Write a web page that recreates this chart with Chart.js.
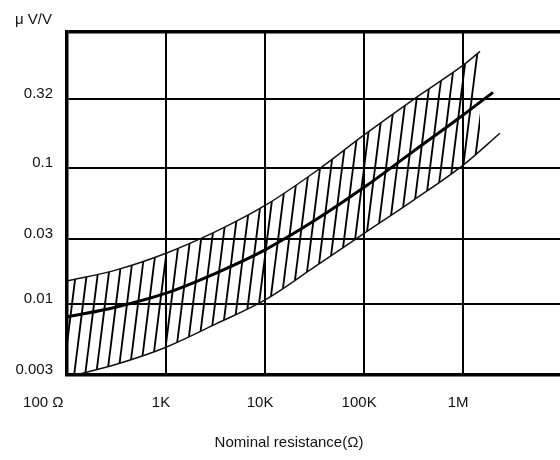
<!DOCTYPE html>
<html>
<head>
<meta charset="utf-8">
<script src="https://cdn.jsdelivr.net/npm/chart.js@4.4.1/dist/chart.umd.min.js"></script>
<style>
  html, body { margin: 0; padding: 0; background: #fff; }
  #wrap { width: 560px; height: 460px; }
</style>
</head>
<body>
<div id="wrap"><canvas id="noiseChart"></canvas></div>
<script>
// values (resistance in ohm, noise in uV/V)
var centerR = [100, 316, 1000, 3160, 10000, 31600, 100000, 316000, 1000000, 2000000];
var centerV = [0.008, 0.0095, 0.012, 0.0168, 0.025, 0.041, 0.072, 0.133, 0.245, 0.36];
var upperR = [100, 316, 1000, 3160, 10000, 31600, 100000, 316000, 1000000, 1480000];
var upperV = [0.0147, 0.0178, 0.0236, 0.034, 0.053, 0.093, 0.175, 0.32, 0.57, 0.72];
var lowerR = [100, 316, 1000, 3160, 10000, 31600, 100000, 316000, 1000000, 2350000];
var lowerV = [0.0029, 0.0036, 0.0048, 0.0071, 0.0107, 0.0187, 0.033, 0.058, 0.105, 0.18];

var xTicks = [100, 1000, 10000, 100000, 1000000];
var xTickLabels = ['100 Ω', '1K', '10K', '100K', '1M'];
var yTicks = [0.003, 0.01, 0.03, 0.1, 0.32, 1];
var yTickLabels = ['0.003', '0.01', '0.03', '0.1', '0.32', ''];

var yUnit = 'μ V/V';
var xTitle = 'Nominal resistance(Ω)';

function toPoints(xs, ys){
    return xs.map(function(x, i){ return {x: x, y: ys[i]}; });
}

// hatch pattern "/" for the tolerance band
function hatchPattern(){
    var w = 11, h = 88;
    var c = document.createElement('canvas');
    c.width = w; c.height = h;
    var g = c.getContext('2d');
    g.strokeStyle = '#000';
    g.lineWidth = 1.8;
    for (var k = -1; k <= 1; k++) {
        g.beginPath();
        g.moveTo(k * w, h);
        g.lineTo(k * w + w, 0);
        g.stroke();
    }
    return g.createPattern(c, 'repeat');
}

var fontFam = '"Liberation Sans", Arial, sans-serif';

var textPlugin = {
    id: 'texts',
    afterDraw: function(chart){
        var c = chart.ctx;
        c.save();
        c.font = '15px ' + fontFam;
        c.fillStyle = '#111';
        c.textBaseline = 'middle';
        c.textAlign = 'left';
        c.fillText(yUnit, 15, 20);
        c.textAlign = 'center';
        c.fillText(xTitle, 289, 443);
        c.restore();
    }
};

var lineBase = {
    borderColor: '#111',
    borderWidth: 1.5,
    pointRadius: 0,
    cubicInterpolationMode: 'monotone',
    fill: false
};

var ctx = document.getElementById('noiseChart');
var noiseChart = new Chart(ctx, {
    type: 'line',
    data: {
        datasets: [
            Object.assign({}, lineBase, {label: 'lower', data: toPoints(lowerR, lowerV)}),
            Object.assign({}, lineBase, {
                label: 'upper',
                data: toPoints(upperR, upperV),
                fill: {target: 0},
                backgroundColor: hatchPattern()
            }),
            Object.assign({}, lineBase, {
                label: 'typical',
                data: toPoints(centerR, centerV),
                borderColor: '#000',
                borderWidth: 3
            })
        ]
    },
    options: {
        responsive: true,
        maintainAspectRatio: false,
        animation: false,
        layout: {padding: {top: 32, left: 0, right: 0, bottom: 0}},
        plugins: {legend: {display: false}, tooltip: {enabled: false}},
        scales: {
            x: {
                type: 'logarithmic',
                min: 100,
                max: 9500000,
                afterBuildTicks: function(s){ s.ticks = xTicks.map(function(v){ return {value: v}; }); },
                afterFit: function(s){ s.height = 85; },
                grid: {color: '#000', lineWidth: 2, drawTicks: false},
                border: {display: true, color: '#000', width: 3.5},
                ticks: {
                    autoSkip: false,
                    maxRotation: 0,
                    padding: 19,
                    labelOffset: -5,
                    color: '#111',
                    font: {family: fontFam, size: 15},
                    callback: function(v, i){
                        // the first label sits left of its line in the original
                        return i === 0 ? xTickLabels[i] + '         ' : xTickLabels[i];
                    }
                }
            },
            y: {
                type: 'logarithmic',
                min: 0.003,
                max: 1,
                afterBuildTicks: function(s){ s.ticks = yTicks.map(function(v){ return {value: v}; }); },
                afterFit: function(s){ s.width = 67; },
                grid: {
                    color: '#000',
                    lineWidth: function(c){ return c.index === yTicks.length - 1 ? 3.5 : 2; },
                    drawTicks: false
                },
                border: {display: true, color: '#000', width: 3.5},
                ticks: {
                    autoSkip: false,
                    padding: 14,
                    labelOffset: -5,
                    color: '#111',
                    font: {family: fontFam, size: 15},
                    callback: function(v, i){ return yTickLabels[i]; }
                }
            }
        }
    },
    plugins: [textPlugin]
});
</script>
</body>
</html>
